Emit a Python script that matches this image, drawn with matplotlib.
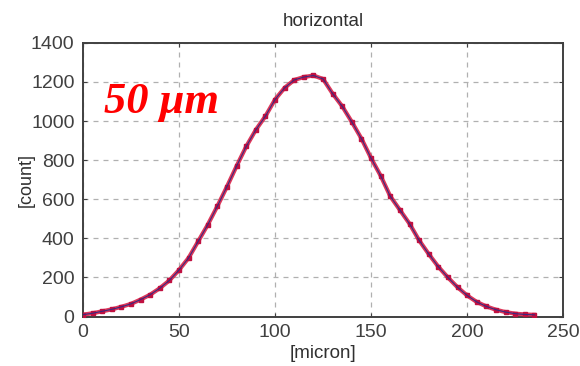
# -*- coding: utf-8 -*-
"""
Horizontal beam profile (50 um)
"""
import numpy as np
import matplotlib
matplotlib.use('Agg')
import matplotlib.pyplot as plt

# data
micron = [0, 5, 10, 15, 20, 25, 30, 35, 40, 45, 50, 55, 60, 65, 70, 75, 80, 85,
          90, 95, 100, 105, 110, 115, 120, 125, 130, 135, 140, 145, 150, 155,
          160, 165, 170, 175, 180, 185, 190, 195, 200, 205, 210, 215, 220, 225,
          230, 235]
count = [10, 17, 27, 37, 50, 65, 87, 112, 145, 185, 238, 300, 385, 470, 565,
         665, 770, 870, 955, 1025, 1110, 1170, 1210, 1225, 1233, 1215, 1140,
         1075, 995, 910, 810, 720, 615, 545, 475, 390, 320, 255, 200, 150, 108,
         75, 52, 35, 23, 15, 11, 9]
xticks = [0, 50, 100, 150, 200, 250]
yticks = [0, 200, 400, 600, 800, 1000, 1200, 1400]

plt.rcParams['font.family'] = ['Liberation Sans', 'DejaVu Sans']

fig = plt.figure(figsize=(5.8, 3.66), dpi=100)
ax = fig.add_axes([0.143, 0.135, 0.828, 0.748])

# measured points and fit line
ax.plot(micron, count, color='#d8143c', lw=3.0, alpha=0.85, zorder=3)
ax.plot(micron, count, ls='none', marker='s', ms=3, color='#c01040', zorder=4)
ax.plot(micron, count, color='#3a2a80', lw=0.8, zorder=5)

ax.set_xlim(0, 250)
ax.set_ylim(0, 1400)
ax.set_xticks(xticks)
ax.set_yticks(yticks)
ax.tick_params(direction='in', length=3, top=True, right=True,
               labelsize=14, labelcolor='#404040', color='#404040')
ax.tick_params(axis='x', pad=5)
ax.tick_params(axis='y', pad=6)
ax.grid(True, ls=(0, (4, 4)), color='#b0b0b0', lw=0.9)
for s in ax.spines.values():
    s.set_color('#404040')
    s.set_linewidth(1.4)

ax.set_title('horizontal', fontsize=13.5, color='#303030', pad=12)
ax.set_xlabel('[micron]', fontsize=13.5, color='#303030', labelpad=3)
ax.set_ylabel('[count]', fontsize=13, color='#303030', labelpad=-3)

ax.text(11, 1040, '50 \u03bcm', color='red', fontsize=32,
        family='Liberation Serif', weight='bold', style='italic',
        va='baseline', ha='left', zorder=6)

plt.savefig('out.png', dpi=100)
